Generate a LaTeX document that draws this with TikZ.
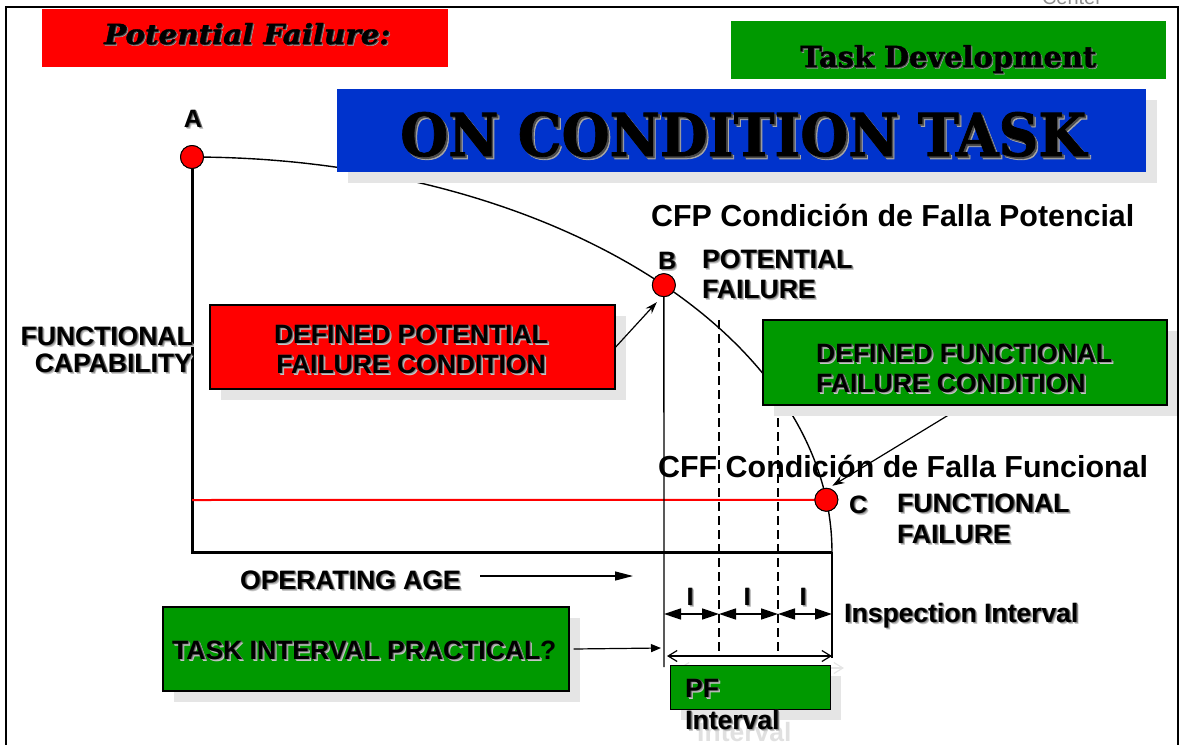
\documentclass[tikz,border=0pt]{standalone}
\usepackage{fontspec}
\setmainfont{Liberation Sans}
\newfontfamily\slabfont{DejaVu Serif}[BoldFeatures={FakeBold=1.3}, BoldItalicFeatures={FakeBold=1.3}]
\usetikzlibrary{arrows.meta,shadows}
\definecolor{sigred}{HTML}{FF0000}
\definecolor{siggreen}{HTML}{009900}
\definecolor{sigblue}{HTML}{0033CC}
% bold lettering with a soft, slightly blurred offset shadow
\newcommand{\shdlayer}[3]{\rlap{\kern#1\raisebox{-#1}{\textcolor{black!#2}{#3}}}}
\newcommand{\shd}[1]{\leavevmode\shdlayer{0.085em}{22}{#1}\shdlayer{0.06em}{40}{#1}\shdlayer{0.035em}{65}{#1}#1}
\newcommand{\shdslab}[1]{\leavevmode\shdlayer{0.05em}{35}{#1}\shdlayer{0.03em}{70}{#1}#1}

\begin{document}
\begin{tikzpicture}[x=1pt,y=-1pt,
  lbl/.style={inner sep=0pt, anchor=base west, font=\bfseries\fontsize{26.5}{30}\selectfont},
  ptlbl/.style={inner sep=0pt, font=\bfseries\fontsize{25}{30}\selectfont},
  spanish/.style={inner sep=0pt, anchor=base west, font=\bfseries\fontsize{30.4}{34}\selectfont},
  slab/.style={inner sep=0pt, anchor=base west},
  bar/.style={rectangle, inner sep=0pt, draw=none},
  boxed/.style={rectangle, inner sep=0pt, draw=black, line width=1.4pt},
  boxshadow/.style={drop shadow={shadow xshift=11pt, shadow yshift=-11pt, fill=black!10, opacity=1}},
  pt/.style={circle, draw=black, fill=sigred, line width=0.9pt, minimum size=23pt, inner sep=0pt},
  curve/.style={line width=1.4pt},
  axis/.style={line width=3pt},
  guide/.style={line width=1.3pt, dash pattern=on 9pt off 5pt},
  interval/.style={line width=1.5pt, {Triangle[length=17pt,width=11pt]}-{Triangle[length=17pt,width=11pt]}},
  pfspan/.style={line width=1.2pt, {Straight Barb[length=9pt,width=11pt]}-{Straight Barb[length=9pt,width=11pt]}},
  pointer/.style={line width=1.2pt, -{Stealth[length=12pt,width=8pt]}},
  flow/.style={line width=1.2pt, -{Triangle[length=18pt,width=9pt]}},
  flowsmall/.style={line width=1.2pt, -{Triangle[length=10pt,width=8pt]}}
]
\useasboundingbox (0,0) rectangle (1180,744);

% faint caption above the frame
\node[inner sep=0pt, anchor=base, text=black!45, font=\fontsize{20}{24}\selectfont] (corner) at (1072,4.5) {Center};

% header bars
\node[bar, fill=sigred, minimum width=406pt, minimum height=58pt] (pfbar) at (245,38) {};
\node[slab, font=\slabfont\bfseries\itshape] (pftitle) at (104,44) {\resizebox{286pt}{21pt}{\shdslab{Potential Failure:}}};
\node[bar, fill=siggreen, minimum width=435pt, minimum height=58pt] (tdbar) at (948.5,50) {};
\node[slab, font=\slabfont\bfseries] (tdtitle) at (800,67) {\resizebox{296pt}{22pt}{\shdslab{Task Development}}};

% axes and the failure curve
\coordinate (origin) at (192,552);
\coordinate (xend) at (832,552);
\coordinate (redstart) at (192,500);
\node[pt] (A) at (192,157) {};
\node[pt] (B) at ({192+640*cos(-42.5)},{552+395*sin(-42.5)}) {};
\node[pt] (C) at ({192+640*cos(-7.6)},{552+395*sin(-7.6)}) {};

\draw[axis] (A.center) -- (origin) -- (xend);
\draw[sigred, line width=2pt] (redstart) -- (C.center);
\draw[curve] plot[domain=-90:0, samples=120] ({192+640*cos(\x)},{552+395*sin(\x)});

% inspection guides
\coordinate (Bfoot) at (664,667);
\coordinate (g1top) at (719,320);
\coordinate (g1bot) at (719,652);
\coordinate (g2top) at (778,320);
\coordinate (g2bot) at (778,652);
\coordinate (cfoot) at (832,658);
\draw[line width=1.3pt] (B.center) -- (Bfoot);
\draw[guide] (g1top) -- (g1bot);
\draw[guide] (g2top) -- (g2bot);
\draw[line width=1.3pt] (xend) -- (cfoot);

% title banner
\node[bar, fill=sigblue, minimum width=809pt, minimum height=83pt, boxshadow] (ocbar) at (741.5,130.5) {};
\node[slab, font=\slabfont\bfseries] (octitle) at (400,156) {\resizebox{686pt}{44pt}{\shdslab{ON CONDITION TASK}}};

% condition boxes
\node[boxed, fill=sigred, minimum width=405pt, minimum height=84pt, boxshadow] (dpfbox) at (412.5,347) {};
\node[lbl, anchor=base] (dpf1) at (411,343) {\shd{DEFINED POTENTIAL}};
\node[lbl, anchor=base] (dpf2) at (411,373) {\shd{FAILURE CONDITION}};

\coordinate (dffroot) at (965,405);
\draw[pointer] (dffroot) -- ([xshift=6pt,yshift=14pt]C.center);
\node[boxed, fill=siggreen, minimum width=404pt, minimum height=85pt, boxshadow] (dffbox) at (965,362.5) {};
\node[lbl] (dff1) at (816,362) {\shd{DEFINED FUNCTIONAL}};
\node[lbl] (dff2) at (816,392) {\shd{FAILURE CONDITION}};

\draw[pointer] (dpfbox.east) -- ([xshift=-7pt,yshift=-17pt]B.center);

% points drawn above the lines
\node[pt] at (A) {};
\node[pt] at (B) {};
\node[pt] at (C) {};

% point labels
\node[ptlbl, anchor=base] (labA) at (193,127) {\shd{A}};
\node[ptlbl, anchor=base west] (labB) at (658,269) {\shd{B}};
\node[lbl] (potB1) at (702,268) {\shd{POTENTIAL}};
\node[lbl] (potB2) at (702,298) {\shd{FAILURE}};
\node[ptlbl, anchor=base west] (labC) at (849,513) {\shd{C}};
\node[lbl] (funC1) at (897,512) {\shd{FUNCTIONAL}};
\node[lbl] (funC2) at (897,543) {\shd{FAILURE}};

\node[spanish] (cfp) at (651,226) {CFP Condici\'on de Falla Potencial};
\node[spanish] (cff) at (658,477) {CFF Condici\'on de Falla Funcional};

% axis captions
\node[lbl, anchor=base east] (ylab1) at (193,345) {\shd{FUNCTIONAL}};
\node[lbl, anchor=base east] (ylab2) at (192,372) {\shd{CAPABILITY}};
\node[lbl] (opage) at (240,589) {\shd{OPERATING AGE}};
\coordinate (ageStart) at (480,576);
\coordinate (ageEnd) at (633,576);
\draw[flow] (ageStart) -- (ageEnd);

% inspection intervals
\coordinate (ins0) at (664,614);
\coordinate (ins1) at (719,614);
\coordinate (ins2) at (778,614);
\coordinate (ins3) at (832,614);
\draw[interval] (ins0) -- (ins1);
\draw[interval] (ins1) -- (ins2);
\draw[interval] (ins2) -- (ins3);
\node[ptlbl, anchor=base] (i1) at (690,605) {\shd{I}};
\node[ptlbl, anchor=base] (i2) at (747,605) {\shd{I}};
\node[ptlbl, anchor=base] (i3) at (803,605) {\shd{I}};
\node[lbl] (insp) at (844,622) {\shd{Inspection Interval}};

% task interval question
\node[boxed, fill=siggreen, minimum width=406pt, minimum height=84pt, boxshadow] (tipbox) at (366,649) {};
\node[lbl] (tiptext) at (172,659) {\shd{TASK INTERVAL PRACTICAL}?};
\coordinate (tipEnd) at (661,648);
\draw[flowsmall] ([xshift=4pt]tipbox.east) -- (tipEnd);

% P-F interval
\coordinate (pfa) at (667,656);
\coordinate (pfb) at (832,656);
\coordinate (pfga) at (679,668);
\coordinate (pfgb) at (844,668);
\draw[pfspan, draw=black!10] (pfga) -- (pfgb);
\node[inner sep=0pt, anchor=base west, text=black!12, font=\bfseries\fontsize{26.5}{30}\selectfont] (pfghost) at (697,741) {Interval};
\draw[pfspan] (pfa) -- (pfb);
\node[boxed, line width=1pt, fill=siggreen, minimum width=160pt, minimum height=44pt, boxshadow] (pfbox) at (750,687) {};
\node[lbl] (pf1) at (685,697) {\shd{PF}};
\node[lbl] (pf2) at (685,729) {\shd{Interval}};

% outer frame
\draw[line width=2pt] (6,7) rectangle (1178,760);
\end{tikzpicture}
\end{document}
